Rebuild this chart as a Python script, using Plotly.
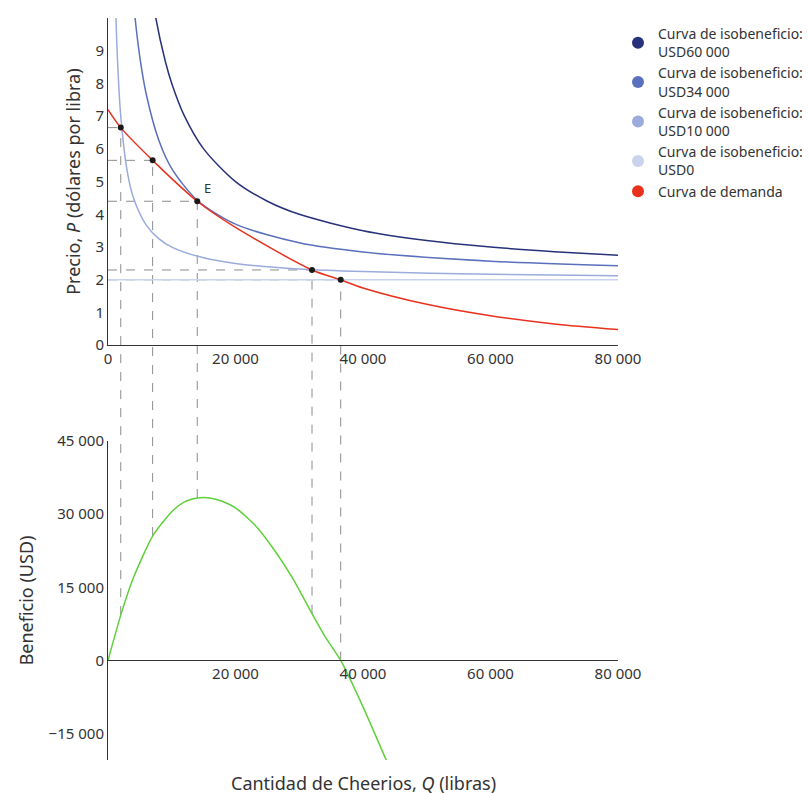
import plotly.graph_objects as go

# isoprofit curves (Q, P)
iso60_q = [6000, 7500, 9000, 10000, 12000, 15000, 20000, 25000, 30000, 40000, 50000, 60000, 70000, 80000]
iso60_p = [12, 10, 8.67, 8, 7, 6, 5, 4.4, 4, 3.5, 3.2, 3, 2.86, 2.75]
iso34_q = [3400, 4250, 5000, 6000, 8000, 10000, 14000, 20000, 30000, 40000, 60000, 80000]
iso34_p = [12, 10, 8.8, 7.67, 6.25, 5.4, 4.43, 3.7, 3.13, 2.85, 2.57, 2.43]
iso10_q = [1000, 1250, 1500, 2000, 3000, 4000, 6000, 8000, 10000, 15000, 20000, 30000, 40000, 60000, 80000]
iso10_p = [12, 10, 8.67, 7, 5.33, 4.5, 3.67, 3.25, 3, 2.67, 2.5, 2.33, 2.25, 2.17, 2.125]
iso0_q = [0, 80000]
iso0_p = [2, 2]

demand_q = [0, 2000, 7000, 14000, 20000, 32000, 36500, 40000, 50000, 60000, 70000, 80000]
demand_p = [7.2, 6.65, 5.65, 4.4, 3.6, 2.3, 2.0, 1.75, 1.25, 0.9, 0.65, 0.48]

profit_q = [0, 2000, 4000, 7000, 10000, 12000, 14000, 15000, 16000, 18000, 20000, 23000, 26000, 29000, 32000, 34000, 36500, 40000, 44000]
profit_v = [0, 9300, 17000, 25500, 30500, 32500, 33300, 33400, 33300, 32600, 31300, 27800, 22800, 16800, 9600, 5000, 0, -9500, -21500]

pts_q = [2000, 7000, 14000, 32000, 36500]
pts_p = [6.65, 5.65, 4.4, 2.3, 2.0]
pts_profit = [9300, 25500, 33300, 9600, 0]

x_ticks = [0, 20000, 40000, 60000, 80000]
x_labels = ["0", "20 000", "40 000", "60 000", "80 000"]
y2_ticks = [-15000, 0, 15000, 30000, 45000]
y2_labels = ["−15 000", "0", "15 000", "30 000", "45 000"]

TOP = [0.559, 1.0]
BOT = [0.0, 0.43]
Y2R = [-20400, 45000]
FONT = "Noto Sans"

fig = go.Figure()
series = [
    (iso60_q, iso60_p, "#27327a", "Curva de isobeneficio:<br>USD60 000"),
    (iso34_q, iso34_p, "#5a6fbd", "Curva de isobeneficio:<br>USD34 000"),
    (iso10_q, iso10_p, "#9aabdc", "Curva de isobeneficio:<br>USD10 000"),
    (iso0_q, iso0_p, "#c9d3ee", "Curva de isobeneficio:<br>USD0"),
    (demand_q, demand_p, "#e8321e", "Curva de demanda"),
]
for q, p, c, name in series:
    fig.add_trace(go.Scatter(x=q, y=p, mode="lines", line=dict(color=c, width=1.5, shape="spline", smoothing=0.8),
                             showlegend=False, xaxis="x", yaxis="y"))
    fig.add_trace(go.Scatter(x=[None], y=[None], mode="markers", marker=dict(color=c, size=13),
                             name=name, xaxis="x", yaxis="y"))

fig.add_trace(go.Scatter(x=profit_q, y=profit_v, mode="lines",
                         line=dict(color="#5fd03a", width=1.5, shape="spline", smoothing=0.6),
                         showlegend=False, xaxis="x2", yaxis="y2"))
fig.add_trace(go.Scatter(x=pts_q, y=pts_p, mode="markers", marker=dict(color="#1a1a1a", size=6),
                         showlegend=False, xaxis="x", yaxis="y"))

def to_paper(v, rng, dom):
    return dom[0] + (v - rng[0]) / (rng[1] - rng[0]) * (dom[1] - dom[0])

shapes = []
dash = dict(color="#8c8c8c", width=1, dash="dash")
for q, p, pr in zip(pts_q, pts_p, pts_profit):
    shapes.append(dict(type="line", xref="x", yref="paper", x0=q, x1=q,
                       y0=to_paper(pr, Y2R, BOT), y1=to_paper(p, [0, 10], TOP), line=dash, layer="below"))
    shapes.append(dict(type="line", xref="x", yref="y", x0=0, x1=q, y0=p, y1=p, line=dash, layer="below"))

tick = dict(size=15, color="#333", family=FONT)
fig.update_layout(
    width=810, height=793,
    margin=dict(l=100, r=184, t=10, b=41),
    plot_bgcolor="white", paper_bgcolor="white",
    font=dict(family=FONT, color="#333"),
    shapes=shapes,
    xaxis=dict(domain=[0, 1], anchor="y", range=[0, 80000], tickvals=x_ticks, ticktext=x_labels,
               showline=True, linecolor="#333", showgrid=False, zeroline=False, tickfont=tick, automargin=False),
    yaxis=dict(domain=TOP, anchor="x", range=[0, 10], dtick=1, showline=True, linecolor="#333",
               showgrid=False, zeroline=False, tickfont=tick, automargin=False,
               title=dict(text="Precio, <i>P</i> (dólares por libra)", font=dict(size=18, family=FONT), standoff=10)),
    xaxis2=dict(domain=[0, 1], anchor="free", position=to_paper(0, Y2R, BOT), range=[0, 80000],
                tickvals=x_ticks[1:], ticktext=x_labels[1:], showline=True, linecolor="#333",
                showgrid=False, zeroline=False, tickfont=tick, automargin=False),
    yaxis2=dict(domain=BOT, anchor="x2", range=Y2R, tickvals=y2_ticks, ticktext=y2_labels,
                showline=True, linecolor="#333", showgrid=False, zeroline=False, tickfont=tick, automargin=False,
                title=dict(text="Beneficio (USD)", font=dict(size=18, family=FONT), standoff=10)),
    legend=dict(x=1.0, y=1.0, xanchor="left", yanchor="top", font=dict(size=14, family=FONT),
                itemsizing="constant", tracegroupgap=4),
    annotations=[
        dict(text="E", x=14000, y=4.4, xref="x", yref="y", xanchor="left", yanchor="bottom",
             xshift=5, yshift=2, showarrow=False, font=dict(size=13)),
        dict(text="Cantidad de Cheerios, <i>Q</i> (libras)", x=0.5, y=0, xref="paper", yref="paper",
             xanchor="center", yanchor="middle", yshift=-23, showarrow=False, font=dict(size=18)),
    ],
)
fig.write_html("out.html")
